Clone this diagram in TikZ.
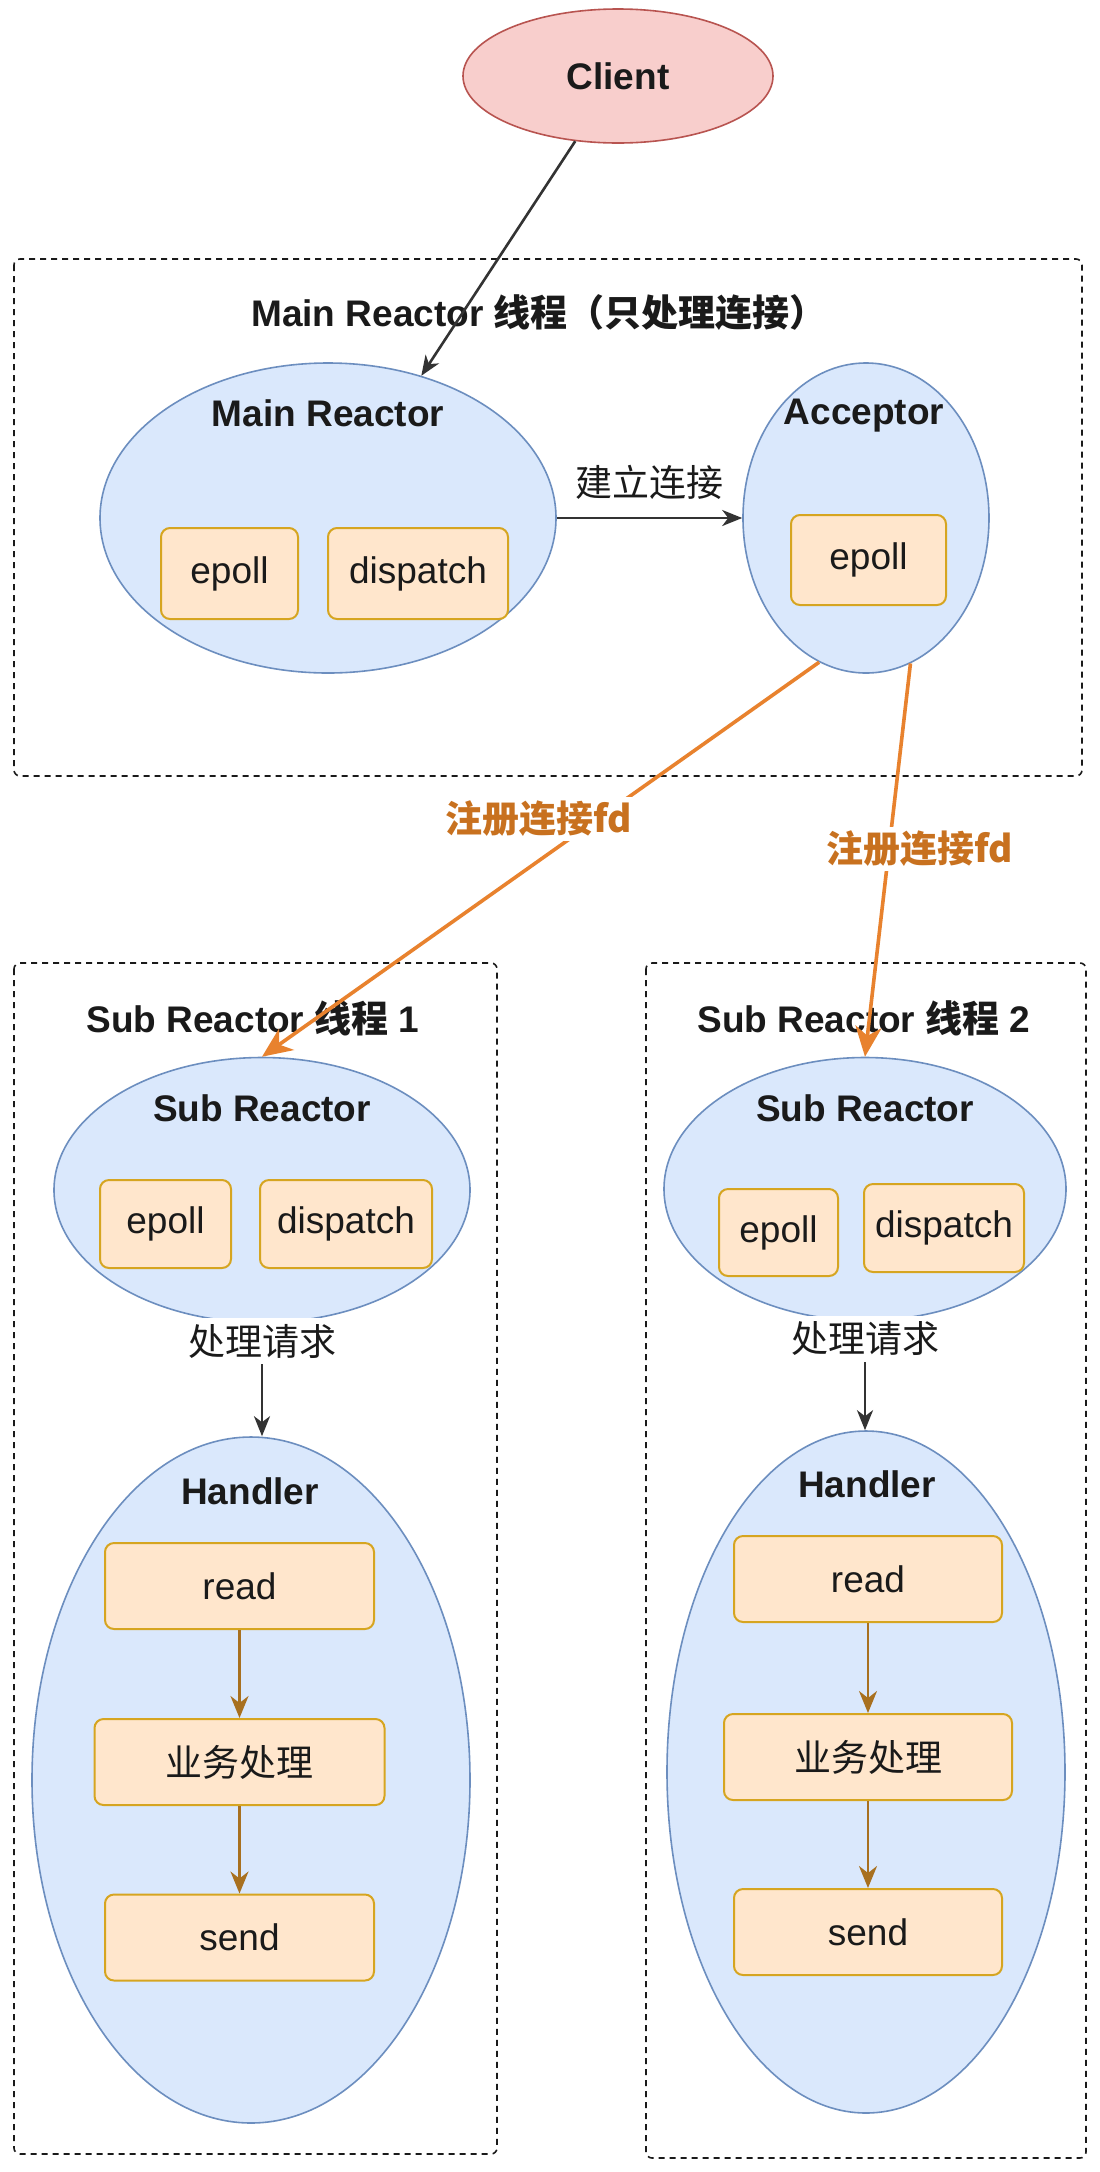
\documentclass[tikz,border=0pt]{standalone}
\usepackage{fontspec}
\setmainfont{Liberation Sans}
\newfontfamily\cjk{Noto Sans CJK SC}
\usepackage{xcolor}
\usetikzlibrary{arrows.meta,shapes.geometric}
\definecolor{rblack}{HTML}{1A1A1A}
\definecolor{rgray}{HTML}{333333}
\definecolor{rblue}{HTML}{DAE8FC}
\definecolor{rblueline}{HTML}{6C8EBF}
\definecolor{rpink}{HTML}{F8CECC}
\definecolor{rpinkline}{HTML}{B85450}
\definecolor{rcream}{HTML}{FFE6CC}
\definecolor{rgold}{HTML}{D6A520}
\definecolor{rorange}{HTML}{E8822E}
\definecolor{rlabel}{HTML}{C8711F}
\definecolor{rbrown}{HTML}{A8701F}

\tikzset{
	every node/.style={font=\fontsize{37}{44}\selectfont, text=rblack},
	thread/.style={draw=rblack, line width=1.6pt, dash pattern=on 6pt off 5pt, rounded corners=6pt},
	loopshape/.style={ellipse, draw=rblueline, fill=rblue, line width=1.6pt, inner sep=0pt},
	part/.style={rectangle, rounded corners=9pt, draw=rgold, fill=rcream, line width=2pt, inner sep=0pt},
	flow/.style={draw=rgray, line width=2.6pt, -{Stealth[length=20pt, width=16pt, inset=6pt]}},
	reg/.style={draw=rorange, line width=3.6pt, -{Stealth[length=30pt, width=26pt, inset=9pt]}},
	step2/.style={draw=rbrown, line width=2.6pt, -{Stealth[length=22pt, width=18pt, inset=7pt]}},
	fdlabel/.style={fill=white, text=rlabel, font=\fontsize{37}{44}\selectfont\bfseries\cjk, inner sep=4pt},
}

\begin{document}
\begin{tikzpicture}[x=1pt, y=-1pt]
		\useasboundingbox[fill=white] (0,0) rectangle (1100,2172);
		% client
		\node[ellipse, draw=rpinkline, fill=rpink, line width=1.6pt, minimum width=310, minimum height=134] (client) at (618,76) {\bfseries Client};

		% main reactor thread
		\draw[thread] (14,259) rectangle (1082,776);
		\node (maintitle) at (539,313) {\bfseries Main Reactor {\cjk 线程（只处理连接）}};
		\node[loopshape, minimum width=456, minimum height=310] (mainr) at (328,518) {};
		\node (mainrlabel) at (328,413) {\bfseries Main Reactor};
		\node[part, minimum width=137, minimum height=91] (mepoll) at (229.5,573.5) {epoll};
		\node[part, minimum width=180, minimum height=91] (mdispatch) at (418,573.5) {dispatch};
		\node[loopshape, minimum width=246, minimum height=310] (acc) at (866,518) {};
		\node (acclabel) at (864,416) {\bfseries Acceptor};
		\node[part, minimum width=155, minimum height=90] (aepoll) at (868.5,560) {epoll};

		% sub reactor thread 1
		\draw[thread] (14,963) rectangle (497,2154);
		\node (subtitle1) at (253,1018) {\bfseries Sub Reactor {\cjk 线程} 1};
		\node[loopshape, minimum width=416, minimum height=265] (sub1) at (262,1190) {};
		\node (sublabel1) at (262,1108) {\bfseries Sub Reactor};
		\node[part, minimum width=131, minimum height=88] (sepoll1) at (165.5,1224) {epoll};
		\node[part, minimum width=172, minimum height=88] (sdispatch1) at (346,1224) {dispatch};
		\node[loopshape, minimum width=438, minimum height=686] (hand1) at (251,1780) {};
		\node (handlabel1) at (250,1491) {\bfseries Handler};
		\node[part, minimum width=269, minimum height=86] (read1) at (239.5,1586) {read};
		\node[part, minimum width=290, minimum height=86] (biz1) at (239.5,1762) {\cjk 业务处理};
		\node[part, minimum width=269, minimum height=86] (send1) at (239.5,1937.5) {send};

		% sub reactor thread 2
		\draw[thread] (646,963) rectangle (1086,2158);
		\node (subtitle2) at (864,1018) {\bfseries Sub Reactor {\cjk 线程} 2};
		\node[loopshape, minimum width=402, minimum height=263] (sub2) at (865,1189) {};
		\node (sublabel2) at (865,1108) {\bfseries Sub Reactor};
		\node[part, minimum width=119, minimum height=87] (sepoll2) at (778.5,1232.5) {epoll};
		\node[part, minimum width=160, minimum height=88] (sdispatch2) at (944,1228) {dispatch};
		\node[loopshape, minimum width=398, minimum height=682] (hand2) at (866,1772) {};
		\node (handlabel2) at (867,1484) {\bfseries Handler};
		\node[part, minimum width=268, minimum height=86] (read2) at (868,1579) {read};
		\node[part, minimum width=288, minimum height=86] (biz2) at (868,1757) {\cjk 业务处理};
		\node[part, minimum width=268, minimum height=86] (send2) at (868,1932) {send};

		% connectors
		\draw[flow] (client) -- (mainr);
		\draw[flow] (mainr.east) -- node[above=14pt] (connlabel) {\cjk 建立连接} (acc.west);
		\draw[reg] (acc.252) -- (sub1.north);
		\draw[reg] (acc.287) -- (sub2.north);
		\node[fdlabel] (reglabel1) at (539,819) {注册连接fd};
		\node[fdlabel] (reglabel2) at (920,849) {注册连接fd};
		\draw[flow] (sub1.south) -- node[pos=0.16, fill=white, inner sep=6pt] (reqlabel1) {\cjk 处理请求} (sub1.south |- hand1.north);
		\draw[flow] (sub2.south) -- node[pos=0.16, fill=white, inner sep=6pt] (reqlabel2) {\cjk 处理请求} (sub2.south |- hand2.north);
		\draw[step2] (read1) -- (biz1);
		\draw[step2] (biz1) -- (send1);
		\draw[step2] (read2) -- (biz2);
		\draw[step2] (biz2) -- (send2);
	\end{tikzpicture}
\end{document}
